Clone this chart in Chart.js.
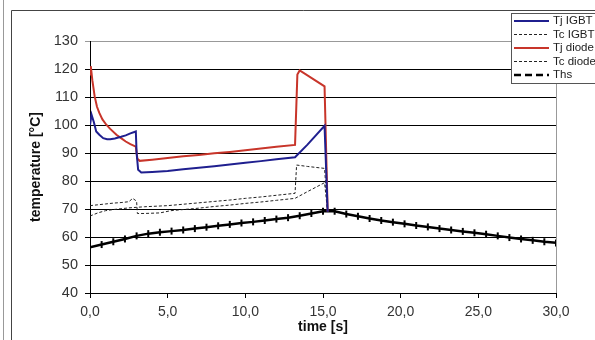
<!DOCTYPE html>
<html><head><meta charset="utf-8">
<script src="https://cdn.jsdelivr.net/npm/chart.js@4.4.1/dist/chart.umd.min.js"></script>
<style>html,body{margin:0;padding:0;background:#fff;overflow:hidden}#wrap{width:595px;height:340px;position:relative}</style>
</head><body><div id="wrap"><canvas id="c" width="595" height="340"></canvas></div>
<script>
// ---- data ----
const seriesNames = ['Tj IGBT', 'Tc IGBT', 'Tj diode', 'Tc diode', 'Ths'];
const xTickValues = [0, 5, 10, 15, 20, 25, 30];
const yTickValues = [40, 50, 60, 70, 80, 90, 100, 110, 120, 130];

const tjIgbtTime = [0, 0.1, 0.25, 0.4, 0.6, 0.85, 1.1, 1.3, 1.6, 2.0, 2.3, 2.6, 2.95, 3.0, 3.1, 3.3, 4, 5, 6, 7, 8, 9, 10, 11, 12, 13.2, 14, 15.1, 15.3];
const tjIgbtTemp = [100, 103.7, 101, 97.7, 96.5, 95.3, 94.9, 94.9, 95.2, 95.8, 96.3, 97, 97.7, 90, 84, 83, 83.2, 83.6, 84.2, 84.7, 85.3, 85.9, 86.5, 87.1, 87.8, 88.5, 93, 99.7, 69];

const tcIgbtTime = [0, 0.5, 1, 1.5, 2, 2.5, 2.75, 2.9, 3.0, 3.05, 3.5, 4.5, 5.2, 6, 7, 8, 9, 10, 11, 12, 13.2, 14, 15.1, 15.3];
const tcIgbtTemp = [71.2, 71.5, 71.8, 72.1, 72.3, 72.6, 73.8, 73.2, 72.8, 68.4, 68.4, 68.6, 69.4, 69.8, 70.3, 70.9, 71.4, 72, 72.5, 73.1, 73.8, 76.2, 79.4, 69];

const tjDiodeTime = [0, 0.05, 0.15, 0.3, 0.45, 0.6, 0.8, 1.05, 1.3, 1.7, 2.0, 2.3, 2.6, 2.95, 3.05, 3.2, 4, 5, 6, 7, 8, 9, 10, 11, 12, 13.2, 13.35, 13.5, 15.1, 15.3];
const tjDiodeTemp = [118, 121, 116, 110.2, 106.5, 104.3, 102, 100.1, 98.6, 96.5, 95.3, 94.1, 93.2, 92.3, 88, 87.2, 87.6, 88.2, 88.8, 89.3, 89.9, 90.4, 91, 91.6, 92.2, 92.9, 118, 119.5, 113.8, 69];

const tcDiodeTime = [0, 0.5, 1, 1.5, 2, 2.5, 3, 3.5, 5, 6, 7, 8, 9, 10, 11, 12, 13.2, 13.3, 14, 15.1, 15.3];
const tcDiodeTemp = [67.5, 68.6, 69.4, 69.8, 70.1, 70.4, 70.6, 70.8, 71.2, 71.7, 72.2, 72.7, 73.2, 73.8, 74.3, 74.9, 75.6, 85.7, 85.2, 84.5, 69];

const thsTime = [0, 0.75, 1.5, 2.25, 3, 3.75, 4.5, 5.25, 6, 6.75, 7.5, 8.25, 9, 9.75, 10.5, 11.25, 12, 12.75, 13.5, 14.25, 15, 15.75, 16.5, 17.25, 18, 18.75, 19.5, 20.25, 21, 21.75, 22.5, 23.25, 24, 24.75, 25.5, 26.25, 27, 27.75, 28.5, 29.25, 30];
const thsTemp = [56.3, 57.3, 58.3, 59.3, 60.4, 61.2, 61.7, 62.1, 62.5, 63.0, 63.5, 64.0, 64.5, 65.0, 65.4, 65.9, 66.4, 66.9, 67.6, 68.4, 69.2, 69.2, 68.2, 67.4, 66.6, 65.9, 65.3, 64.7, 64.1, 63.6, 63.0, 62.5, 62.0, 61.5, 61.0, 60.4, 59.8, 59.3, 58.8, 58.3, 57.9];

const xTitle = 'time [s]';
const yTitle = 'temperature [°C]';

// ---- build ----
const pts = (t, v) => t.map((x, i) => ({x: x, y: v[i]}));
const FONT = '"Liberation Sans", Arial, sans-serif';

const datasets = [
  {label: seriesNames[0], data: pts(tjIgbtTime, tjIgbtTemp), borderColor: '#1f1f8f', borderWidth: 2, pointRadius: 0},
  {label: seriesNames[1], data: pts(tcIgbtTime, tcIgbtTemp), borderColor: '#222', borderWidth: 1, borderDash: [3, 2], pointRadius: 0},
  {label: seriesNames[2], data: pts(tjDiodeTime, tjDiodeTemp), borderColor: '#c8352a', borderWidth: 2, pointRadius: 0},
  {label: seriesNames[3], data: pts(tcDiodeTime, tcDiodeTemp), borderColor: '#222', borderWidth: 1, borderDash: [3, 2], pointRadius: 0},
  {label: seriesNames[4], data: pts(thsTime, thsTemp), borderColor: '#000', borderWidth: 2.5, pointRadius: 3.5, pointStyle: 'line', rotation: 90, pointBorderWidth: 2, pointBorderColor: '#000', pointBackgroundColor: '#000', legendDash: [7, 4]}
];

const framePlugin = {
  id: 'frame',
  beforeDraw(chart) {
    const ctx = chart.ctx;
    ctx.save();
    ctx.fillStyle = '#fff';
    ctx.fillRect(0, 0, chart.width, chart.height);
    ctx.lineWidth = 1;
    ctx.strokeStyle = '#999';
    ctx.beginPath(); ctx.moveTo(3.5, 0); ctx.lineTo(3.5, 340); ctx.stroke();
    ctx.strokeStyle = '#444';
    ctx.beginPath(); ctx.moveTo(11.5, 340); ctx.lineTo(11.5, 10.5); ctx.lineTo(595, 10.5); ctx.stroke();
    ctx.restore();
  },
  afterDatasetsDraw(chart) {
    const ctx = chart.ctx, a = chart.chartArea;
    ctx.save();
    ctx.strokeStyle = '#999';
    ctx.lineWidth = 1;
    ctx.beginPath(); ctx.moveTo(Math.round(a.right) + 0.5, a.top); ctx.lineTo(Math.round(a.right) + 0.5, a.bottom); ctx.stroke();
    ctx.restore();
  },
  afterDraw(chart) {
    const ctx = chart.ctx;
    ctx.save();
    const bx = 511.5, by = 13.5, rowH = 13.5;
    ctx.fillStyle = '#fff';
    ctx.fillRect(bx, by, 100, 70);
    ctx.strokeStyle = '#555';
    ctx.lineWidth = 1;
    ctx.strokeRect(bx, by, 100, 70);
    ctx.font = '11.5px ' + FONT;
    ctx.textBaseline = 'middle';
    chart.data.datasets.forEach((ds, i) => {
      const y = 21 + i * rowH;
      ctx.strokeStyle = ds.borderColor;
      ctx.lineWidth = ds.borderWidth;
      ctx.setLineDash(ds.legendDash || ds.borderDash || []);
      ctx.beginPath(); ctx.moveTo(514, y); ctx.lineTo(549, y); ctx.stroke();
      ctx.setLineDash([]);
      ctx.fillStyle = '#222';
      ctx.fillText(ds.label, 553, y);
    });
    ctx.restore();
  }
};

new Chart(document.getElementById('c'), {
  type: 'line',
  data: {datasets},
  options: {
    responsive: false,
    animation: false,
    devicePixelRatio: 1,
    layout: {padding: {left: 0, top: 41, right: 39, bottom: 0}},
    plugins: {legend: {display: false}, tooltip: {enabled: false}},
    elements: {line: {tension: 0}},
    scales: {
      x: {
        type: 'linear', min: 0, max: 30,
        afterFit(s) { s.height = 47; },
        afterBuildTicks(s) { s.ticks = xTickValues.map(v => ({value: v})); },
        ticks: {color: '#333', font: {size: 14, family: FONT}, padding: 6, maxRotation: 0,
          callback: v => v.toFixed(1).replace('.', ',')},
        grid: {drawOnChartArea: false, drawTicks: true, tickLength: 5, color: '#000'},
        border: {color: '#000', width: 1},
        title: {display: true, text: xTitle, color: '#111', font: {size: 14, weight: 'bold', family: FONT}, padding: {top: 0, bottom: 4}}
      },
      y: {
        min: 40, max: 130,
        afterFit(s) { s.width = 90; },
        afterBuildTicks(s) { s.ticks = yTickValues.map(v => ({value: v})); },
        ticks: {color: '#333', font: {size: 14.5, family: FONT}, padding: 7},
        grid: {color: ctx => (ctx.tick && ctx.tick.value === 130) ? '#999' : '#000', tickLength: 5, lineWidth: 1},
        border: {color: '#000', width: 1},
        title: {display: true, text: yTitle, color: '#111', font: {size: 14, weight: 'bold', family: FONT}, padding: {top: 28, bottom: 0}}
      }
    }
  },
  plugins: [framePlugin]
});
</script></body></html>
